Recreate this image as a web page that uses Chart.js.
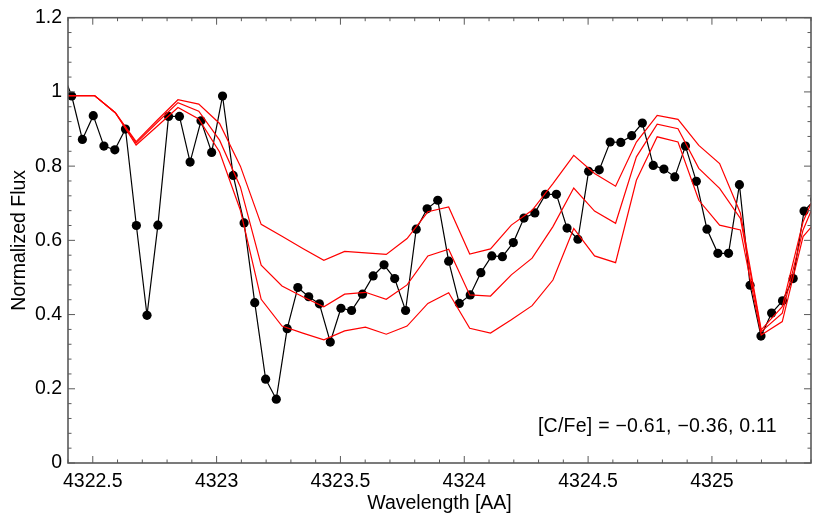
<!DOCTYPE html>
<html>
<head>
<meta charset="utf-8">
<script src="https://cdn.jsdelivr.net/npm/chart.js@4.4.0/dist/chart.umd.min.js"></script>
<style>
  html, body { margin: 0; padding: 0; background: #fff; }
  canvas { display: block; }
</style>
</head>
<body>
<canvas id="specChart" width="830" height="518"></canvas>
<script>
// observed spectrum (black dots)
const obsWave = [4322.371,
  4322.415, 4322.458, 4322.502, 4322.545, 4322.589, 4322.632, 4322.676, 4322.719, 4322.763, 4322.806,
  4322.850, 4322.893, 4322.937, 4322.980, 4323.024, 4323.067, 4323.111, 4323.154, 4323.198, 4323.241,
  4323.285, 4323.328, 4323.372, 4323.415, 4323.459, 4323.502, 4323.545, 4323.589, 4323.632, 4323.676,
  4323.719, 4323.763, 4323.806, 4323.850, 4323.893, 4323.937, 4323.980, 4324.024, 4324.067, 4324.111,
  4324.154, 4324.198, 4324.241, 4324.285, 4324.328, 4324.372, 4324.415, 4324.459, 4324.502, 4324.545,
  4324.589, 4324.632, 4324.676, 4324.719, 4324.763, 4324.806, 4324.850, 4324.893, 4324.937, 4324.980,
  4325.024, 4325.067, 4325.111, 4325.154, 4325.198, 4325.241, 4325.285, 4325.328, 4325.372,
  4325.415];
const obsFlux = [1.065,
  0.989, 0.872, 0.936, 0.854, 0.844, 0.900, 0.640, 0.398, 0.641, 0.934,
  0.934, 0.811, 0.922, 0.837, 0.989, 0.775, 0.647, 0.432, 0.226, 0.172,
  0.362, 0.473, 0.448, 0.429, 0.326, 0.417, 0.411, 0.455, 0.504, 0.534,
  0.497, 0.411, 0.630, 0.685, 0.708, 0.544, 0.430, 0.453, 0.513, 0.558,
  0.556, 0.594, 0.660, 0.674, 0.724, 0.724, 0.633, 0.603, 0.786, 0.790,
  0.865, 0.864, 0.882, 0.916, 0.802, 0.792, 0.771, 0.854, 0.759, 0.630,
  0.565, 0.565, 0.750, 0.479, 0.342, 0.404, 0.437, 0.497, 0.679,
  0.710];

// synthetic spectra (red), [C/Fe] = -0.61, -0.36, 0.11
const synWave = [4322.339, 4322.423, 4322.507, 4322.591, 4322.675, 4322.759, 4322.844, 4322.928,
  4323.012, 4323.096, 4323.180, 4323.264, 4323.348, 4323.433, 4323.517, 4323.601, 4323.685,
  4323.769, 4323.853, 4323.937, 4324.022, 4324.106, 4324.190, 4324.274, 4324.358, 4324.442,
  4324.526, 4324.611, 4324.695, 4324.779, 4324.863, 4324.947, 4325.031, 4325.115, 4325.199,
  4325.284, 4325.368, 4325.452];
const synCm061 = [0.990, 0.990, 0.990, 0.944, 0.866, 0.923, 0.979, 0.967, 0.915, 0.800, 0.643,
  0.611, 0.578, 0.546, 0.570, 0.566, 0.562, 0.605, 0.677, 0.690, 0.563, 0.577, 0.641, 0.681,
  0.753, 0.829, 0.780, 0.746, 0.865, 0.937, 0.926, 0.856, 0.807, 0.673, 0.359, 0.421, 0.650, 0.780];
const synCm036 = [0.990, 0.990, 0.990, 0.944, 0.862, 0.917, 0.971, 0.948, 0.870, 0.744, 0.533,
  0.477, 0.448, 0.421, 0.455, 0.460, 0.441, 0.480, 0.558, 0.576, 0.453, 0.450, 0.507, 0.552,
  0.637, 0.741, 0.679, 0.646, 0.825, 0.913, 0.901, 0.794, 0.740, 0.659, 0.354, 0.404, 0.628, 0.760];
const synCp011 = [0.990, 0.990, 0.990, 0.944, 0.857, 0.907, 0.958, 0.927, 0.838, 0.681, 0.441,
  0.369, 0.350, 0.332, 0.356, 0.366, 0.347, 0.369, 0.430, 0.459, 0.363, 0.350, 0.386, 0.424,
  0.493, 0.632, 0.558, 0.540, 0.762, 0.879, 0.865, 0.708, 0.641, 0.628, 0.345, 0.381, 0.610, 0.675];

const xTicks = [4322.5, 4323, 4323.5, 4324, 4324.5, 4325];
const yTicks = [0, 0.2, 0.4, 0.6, 0.8, 1, 1.2];
const xRange = [4322.4, 4325.4];
const yRange = [0, 1.2];
const annotation = '[C/Fe] = \u22120.61, \u22120.36, 0.11';

const pairs = (xs, ys) => xs.map((v, i) => ({x: v, y: ys[i]}));

Chart.defaults.font.family = '"Liberation Sans", Arial, Helvetica, sans-serif';
Chart.defaults.font.size = 19.5;
Chart.defaults.color = '#000';

// frame with inward ticks on every side, plus the text label
const frameTicks = {
  id: 'frameTicks',
  afterDatasetsDraw(chart) {
    const {ctx, chartArea: a, scales: {x, y}} = chart;
    ctx.save();
    ctx.strokeStyle = '#5a5a5a';
    ctx.lineWidth = 1;
    ctx.beginPath();
    for (let i = 0; i <= 30; i++) {
      const px = x.getPixelForValue(xRange[0] + i * 0.1);
      const len = (i % 5 === 1) ? 7 : 3.5;
      ctx.moveTo(px, a.bottom); ctx.lineTo(px, a.bottom - len);
      ctx.moveTo(px, a.top); ctx.lineTo(px, a.top + len);
    }
    for (let i = 0; i <= 30; i++) {
      const py = y.getPixelForValue(i * 0.04);
      const len = (i % 5 === 0) ? 7 : 3.5;
      ctx.moveTo(a.left, py); ctx.lineTo(a.left + len, py);
      ctx.moveTo(a.right, py); ctx.lineTo(a.right - len, py);
    }
    ctx.stroke();
    ctx.lineWidth = 1.6;
    ctx.strokeRect(a.left, a.top, a.right - a.left, a.bottom - a.top);

    ctx.fillStyle = '#000';
    ctx.font = '19.5px "Liberation Sans", Arial, sans-serif';
    ctx.letterSpacing = '0.25px';
    ctx.textAlign = 'right';
    ctx.textBaseline = 'middle';
    ctx.fillText(annotation, x.getPixelForValue(4325.262), y.getPixelForValue(0.098));
    ctx.restore();
  }
};

new Chart(document.getElementById('specChart'), {
  type: 'scatter',
  data: {
    datasets: [
      { label: '-0.61', data: pairs(synWave, synCm061), showLine: true, pointRadius: 0,
        borderColor: 'rgb(255,0,0)', borderWidth: 1.2 },
      { label: '-0.36', data: pairs(synWave, synCm036), showLine: true, pointRadius: 0,
        borderColor: 'rgb(255,0,0)', borderWidth: 1.2 },
      { label: '0.11', data: pairs(synWave, synCp011), showLine: true, pointRadius: 0,
        borderColor: 'rgb(255,0,0)', borderWidth: 1.2 },
      { label: 'obs', data: pairs(obsWave, obsFlux), showLine: true,
        borderColor: '#000', borderWidth: 1.2,
        pointRadius: 4.6, pointBackgroundColor: '#000', pointBorderWidth: 0, order: 1 }
    ]
  },
  options: {
    responsive: false,
    animation: false,
    events: [],
    layout: { padding: { top: 17, right: 19, left: 0, bottom: 0 } },
    plugins: { legend: { display: false }, tooltip: { enabled: false } },
    scales: {
      x: {
        type: 'linear', min: xRange[0], max: xRange[1],
        afterBuildTicks: s => { s.ticks = xTicks.map(v => ({value: v})); },
        afterFit: s => { s.height = 55; },
        grid: { display: false, drawTicks: false },
        border: { display: false },
        ticks: { padding: 7, maxRotation: 0, autoSkip: false, callback: v => String(v) },
        title: { display: true, text: 'Wavelength [AA]', padding: { top: 0, bottom: 3 } }
      },
      y: {
        type: 'linear', min: yRange[0], max: yRange[1],
        afterBuildTicks: s => { s.ticks = yTicks.map(v => ({value: v})); },
        afterFit: s => { s.width = 68; },
        grid: { display: false, drawTicks: false },
        border: { display: false },
        ticks: { padding: 6, autoSkip: false, callback: v => String(v) },
        title: { display: true, text: 'Normalized Flux', padding: { top: 8, bottom: 0 } }
      }
    }
  },
  plugins: [frameTicks]
});
</script>
</body>
</html>
